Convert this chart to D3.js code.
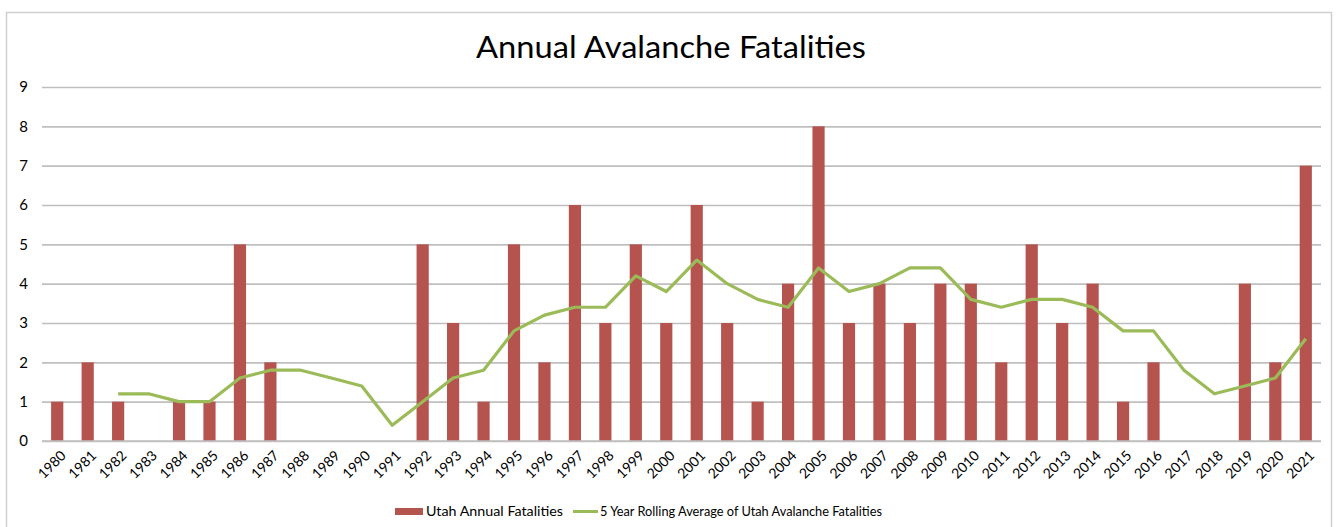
<!DOCTYPE html>
<html><head><meta charset="utf-8">
<script src="https://cdn.jsdelivr.net/npm/d3@7"></script>
<style>body{margin:0;background:#fff;}svg{display:block;font-family:Lato,"Open Sans",sans-serif;}</style>
</head><body><svg id="c" width="1336" height="527"></svg>
<script>
const years = ["1980","1981","1982","1983","1984","1985","1986","1987","1988","1989","1990","1991","1992","1993","1994","1995","1996","1997","1998","1999","2000","2001","2002","2003","2004","2005","2006","2007","2008","2009","2010","2011","2012","2013","2014","2015","2016","2017","2018","2019","2020","2021"];
const fatalities = [1,2,1,0,1,1,5,2,0,0,0,0,5,3,1,5,2,6,3,5,3,6,3,1,4,8,3,4,3,4,4,2,5,3,4,1,2,0,0,4,2,7];
const rollingAvg = [null,null,1.2,1.2,1.0,1.0,1.6,1.8,1.8,1.6,1.4,0.4,1.0,1.6,1.8,2.8,3.2,3.4,3.4,4.2,3.8,4.6,4.0,3.6,3.4,4.4,3.8,4.0,4.4,4.4,3.6,3.4,3.6,3.6,3.4,2.8,2.8,1.8,1.2,1.4,1.6,2.6];
const yTicks = [0,1,2,3,4,5,6,7,8,9];
const title = "Annual Avalanche Fatalities";
const seriesNames = ["Utah Annual Fatalities","5 Year Rolling Average of Utah Avalanche Fatalities"];
const colors = {bar:"#B5534F", line:"#9BBB59", grid:"#BFBFBF"};

const svg = d3.select("#c");
svg.append("rect").attr("x",6.5).attr("y",12.5).attr("width",1325).attr("height",530)
  .attr("fill","none").attr("stroke","#D0D0D0").attr("stroke-width",1.5);

const L=42, R=1321, T=87, B=441;
const x = d3.scaleBand().domain(years).range([L,R]).paddingInner(0.6).paddingOuter(0.3);
const y = d3.scaleLinear().domain([0,9]).range([B,T]);

svg.append("text").attr("x",476).attr("y",58).attr("font-size",30).attr("fill","#000")
  .attr("textLength",390).attr("lengthAdjust","spacingAndGlyphs").text(title);

const gy = svg.append("g").attr("transform",`translate(${L},0)`)
  .call(d3.axisLeft(y).tickValues(yTicks).tickSize(-(R-L)).tickPadding(14).tickFormat(d3.format("d")));
gy.select(".domain").remove();
gy.selectAll(".tick line").attr("stroke",colors.grid).attr("stroke-width",1.6);
gy.selectAll(".tick text").attr("font-size",15).attr("fill","#000").attr("font-family","Lato,'Open Sans',sans-serif");

svg.append("g").selectAll("rect").data(years).join("rect")
  .attr("x",d=>x(d)).attr("width",x.bandwidth())
  .attr("y",(d,i)=>y(fatalities[i])).attr("height",(d,i)=>B-y(fatalities[i]))
  .attr("fill",colors.bar);

const gx = svg.append("g").attr("transform",`translate(0,${B})`)
  .call(d3.axisBottom(x).tickSize(0).tickPadding(0));
gx.select(".domain").attr("stroke",colors.grid).attr("stroke-width",1.6).attr("d",`M${L},0H${R}`);
gx.selectAll(".tick text").attr("font-size",14).attr("fill","#000")
  .attr("font-family","Lato,'Open Sans',sans-serif")
  .attr("text-anchor","end").attr("dy","0.35em")
  .attr("transform","translate(6,12) rotate(-45)");

const cx = d => x(d)+x.bandwidth()/2;
const line = d3.line().defined((d,i)=>rollingAvg[i]!=null).x(d=>cx(d)).y((d,i)=>y(rollingAvg[i]));
svg.append("path").datum(years).attr("d",line).attr("fill","none")
  .attr("stroke",colors.line).attr("stroke-width",3.2).attr("stroke-linejoin","round");

const lg = svg.append("g").attr("font-size",14).attr("font-family","Lato,'Open Sans',sans-serif");
lg.append("rect").attr("x",395).attr("y",508).attr("width",28).attr("height",7).attr("fill",colors.bar);
lg.append("text").attr("x",426).attr("y",516).attr("textLength",137).attr("lengthAdjust","spacingAndGlyphs").text(seriesNames[0]);
lg.append("line").attr("x1",573).attr("x2",598).attr("y1",511.5).attr("y2",511.5).attr("stroke",colors.line).attr("stroke-width",3);
lg.append("text").attr("x",600).attr("y",516).attr("textLength",282).attr("lengthAdjust","spacingAndGlyphs").text(seriesNames[1]);
</script></body></html>
